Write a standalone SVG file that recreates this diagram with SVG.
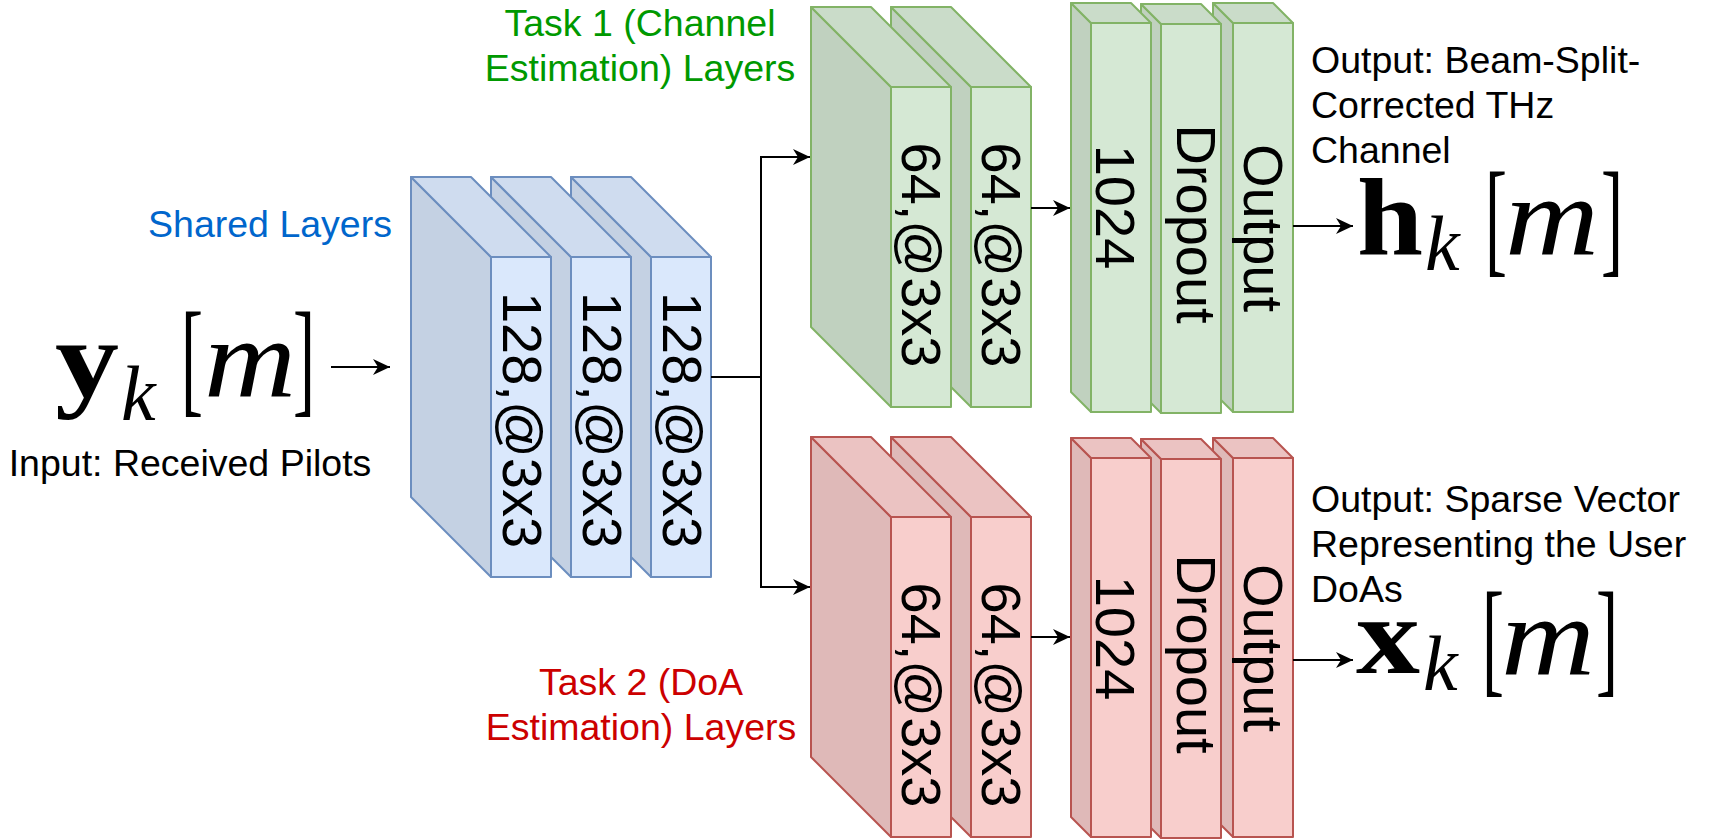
<svg xmlns="http://www.w3.org/2000/svg" width="1710" height="840" viewBox="0 0 1710 840">
<style>
.lbl{font-family:"Liberation Sans",Arial,sans-serif;font-size:37.5px}
.big{font-family:"Liberation Sans",Arial,sans-serif;font-size:56px;fill:#000}
.mb{font-family:"Liberation Serif","Times New Roman",serif;font-weight:bold;font-size:110px}
.mi{font-family:"Liberation Serif","Times New Roman",serif;font-style:italic}
.br{font-family:"Liberation Serif","Times New Roman",serif;font-size:128px}
.b polygon,.b rect{stroke:#6c8ebf;stroke-width:2;stroke-linejoin:round}
.g polygon,.g rect{stroke:#82b366;stroke-width:2;stroke-linejoin:round}
.r polygon,.r rect{stroke:#b85450;stroke-width:2;stroke-linejoin:round}
.b .f{fill:#dae8fc}.b .s{fill:#c4d1e3}.b .t{fill:#cfdcef}
.g .f{fill:#d5e8d4}.g .s{fill:#c0d1bf}.g .t{fill:#cadcc9}
.r .f{fill:#f8cecc}.r .s{fill:#dfb9b8}.r .t{fill:#ebc3c2}
.edge{fill:none;stroke:#000;stroke-width:2;marker-end:url(#arr)}
</style>
<defs>
<marker id="arr" viewBox="-18 -9 19 18" refX="0" refY="0" markerWidth="19" markerHeight="18" markerUnits="userSpaceOnUse" orient="auto">
<path d="M0,0 L-17,-8 L-12,0 L-17,8 Z" fill="#000"/>
</marker>
</defs>
<rect width="1710" height="840" fill="#fff"/>

<!-- labels -->
<g id="input-label">
<text class="mb" x="55" y="397" textLength="64" lengthAdjust="spacingAndGlyphs">y</text>
<text class="mi" x="121" y="420" font-size="78">k</text>
<text class="br" x="181" y="400" textLength="22" lengthAdjust="spacingAndGlyphs">[</text>
<text class="mi" x="204" y="397" font-size="112" textLength="92" lengthAdjust="spacingAndGlyphs">m</text>
<text class="br" x="293" y="400" textLength="22" lengthAdjust="spacingAndGlyphs">]</text>
<text class="lbl" x="190" y="476" text-anchor="middle" fill="#000">Input: Received Pilots</text>
</g>
<text id="shared-label" class="lbl" x="270" y="237" text-anchor="middle" fill="#0066cc">Shared Layers</text>
<g id="task1-label" class="lbl" fill="#009900" text-anchor="middle">
<text x="640" y="36">Task 1 (Channel</text>
<text x="640" y="81">Estimation) Layers</text>
</g>
<g id="task2-label" class="lbl" fill="#cc0000" text-anchor="middle">
<text x="641" y="695">Task 2 (DoA</text>
<text x="641" y="740">Estimation) Layers</text>
</g>
<g id="output1-label">
<g class="lbl" fill="#000">
<text x="1311" y="73">Output: Beam-Split-</text>
<text x="1311" y="118">Corrected THz</text>
<text x="1311" y="163">Channel</text>
</g>
<text class="mb" x="1357" y="255" textLength="66" lengthAdjust="spacingAndGlyphs">h</text>
<text class="mi" x="1425" y="270" font-size="78">k</text>
<text class="br" x="1485" y="260" textLength="22" lengthAdjust="spacingAndGlyphs">[</text>
<text class="mi" x="1505" y="255" font-size="112" textLength="94" lengthAdjust="spacingAndGlyphs">m</text>
<text class="br" x="1601" y="260" textLength="22" lengthAdjust="spacingAndGlyphs">]</text>
</g>
<g id="output2-label">
<g class="lbl" fill="#000">
<text x="1311" y="512">Output: Sparse Vector</text>
<text x="1311" y="557">Representing the User</text>
<text x="1311" y="602">DoAs</text>
</g>
<text class="mb" x="1356" y="673" textLength="64" lengthAdjust="spacingAndGlyphs">x</text>
<text class="mi" x="1423" y="690" font-size="78">k</text>
<text class="br" x="1482" y="680" textLength="22" lengthAdjust="spacingAndGlyphs">[</text>
<text class="mi" x="1501" y="675" font-size="112" textLength="94" lengthAdjust="spacingAndGlyphs">m</text>
<text class="br" x="1596" y="680" textLength="22" lengthAdjust="spacingAndGlyphs">]</text>
</g>

<!-- shared conv layers (drawn back to front) -->
<g id="shared3" class="b">
<polygon class="s" points="571,177 651,257 651,577 571,497"/>
<polygon class="t" points="571,177 631,177 711,257 651,257"/>
<rect class="f" x="651" y="257" width="60" height="320"/>
<text class="big" transform="translate(663,420) rotate(90)" text-anchor="middle">128,@3x3</text>
</g>
<g id="shared2" class="b">
<polygon class="s" points="491,177 571,257 571,577 491,497"/>
<polygon class="t" points="491,177 551,177 631,257 571,257"/>
<rect class="f" x="571" y="257" width="60" height="320"/>
<text class="big" transform="translate(583,420) rotate(90)" text-anchor="middle">128,@3x3</text>
</g>
<g id="shared1" class="b">
<polygon class="s" points="411,177 491,257 491,577 411,497"/>
<polygon class="t" points="411,177 471,177 551,257 491,257"/>
<rect class="f" x="491" y="257" width="60" height="320"/>
<text class="big" transform="translate(503,420) rotate(90)" text-anchor="middle">128,@3x3</text>
</g>

<!-- task 1 conv -->
<g id="t1conv2" class="g">
<polygon class="s" points="891,7 971,87 971,407 891,327"/>
<polygon class="t" points="891,7 951,7 1031,87 971,87"/>
<rect class="f" x="971" y="87" width="60" height="320"/>
<text class="big" transform="translate(982,255) rotate(90)" text-anchor="middle">64,@3x3</text>
</g>
<g id="t1conv1" class="g">
<polygon class="s" points="811,7 891,87 891,407 811,327"/>
<polygon class="t" points="811,7 871,7 951,87 891,87"/>
<rect class="f" x="891" y="87" width="60" height="320"/>
<text class="big" transform="translate(902,255) rotate(90)" text-anchor="middle">64,@3x3</text>
</g>
<!-- task 1 dense -->
<g id="t1out" class="g">
<polygon class="s" points="1213,3 1233,23 1233,412 1213,392"/>
<polygon class="t" points="1213,3 1273,3 1293,23 1233,23"/>
<rect class="f" x="1233" y="23" width="60" height="389"/>
<text class="big" transform="translate(1244,228) rotate(90)" text-anchor="middle">Output</text>
</g>
<g id="t1drop" class="g">
<polygon class="s" points="1141,4 1161,24 1161,413 1141,393"/>
<polygon class="t" points="1141,4 1201,4 1221,24 1161,24"/>
<rect class="f" x="1161" y="24" width="60" height="389"/>
<text class="big" transform="translate(1177,224) rotate(90)" text-anchor="middle">Dropout</text>
</g>
<g id="t1fc" class="g">
<polygon class="s" points="1071,3 1091,23 1091,412 1071,392"/>
<polygon class="t" points="1071,3 1131,3 1151,23 1091,23"/>
<rect class="f" x="1091" y="23" width="60" height="389"/>
<text class="big" transform="translate(1096,207) rotate(90)" text-anchor="middle">1024</text>
</g>

<!-- task 2 conv -->
<g id="t2conv2" class="r">
<polygon class="s" points="891,437 971,517 971,837 891,757"/>
<polygon class="t" points="891,437 951,437 1031,517 971,517"/>
<rect class="f" x="971" y="517" width="60" height="320"/>
<text class="big" transform="translate(982,695) rotate(90)" text-anchor="middle">64,@3x3</text>
</g>
<g id="t2conv1" class="r">
<polygon class="s" points="811,437 891,517 891,837 811,757"/>
<polygon class="t" points="811,437 871,437 951,517 891,517"/>
<rect class="f" x="891" y="517" width="60" height="320"/>
<text class="big" transform="translate(902,695) rotate(90)" text-anchor="middle">64,@3x3</text>
</g>
<!-- task 2 dense -->
<g id="t2out" class="r">
<polygon class="s" points="1213,438 1233,458 1233,837 1213,817"/>
<polygon class="t" points="1213,438 1273,438 1293,458 1233,458"/>
<rect class="f" x="1233" y="458" width="60" height="379"/>
<text class="big" transform="translate(1244,648) rotate(90)" text-anchor="middle">Output</text>
</g>
<g id="t2drop" class="r">
<polygon class="s" points="1141,439 1161,459 1161,838 1141,818"/>
<polygon class="t" points="1141,439 1201,439 1221,459 1161,459"/>
<rect class="f" x="1161" y="459" width="60" height="379"/>
<text class="big" transform="translate(1177,654) rotate(90)" text-anchor="middle">Dropout</text>
</g>
<g id="t2fc" class="r">
<polygon class="s" points="1071,438 1091,458 1091,837 1071,817"/>
<polygon class="t" points="1071,438 1131,438 1151,458 1091,458"/>
<rect class="f" x="1091" y="458" width="60" height="379"/>
<text class="big" transform="translate(1096,638) rotate(90)" text-anchor="middle">1024</text>
</g>

<!-- connectors -->
<g id="connectors">
<path class="edge" d="M331,367 L390,367"/>
<path class="edge" d="M711,377 L761,377 L761,157 L810,157"/>
<path class="edge" d="M761,377 L761,587 L810,587"/>
<path class="edge" d="M1031,208 L1070,208"/>
<path class="edge" d="M1031,637 L1070,637"/>
<path class="edge" d="M1293,226 L1353,226"/>
<path class="edge" d="M1293,660 L1353,660"/>
</g>
</svg>
